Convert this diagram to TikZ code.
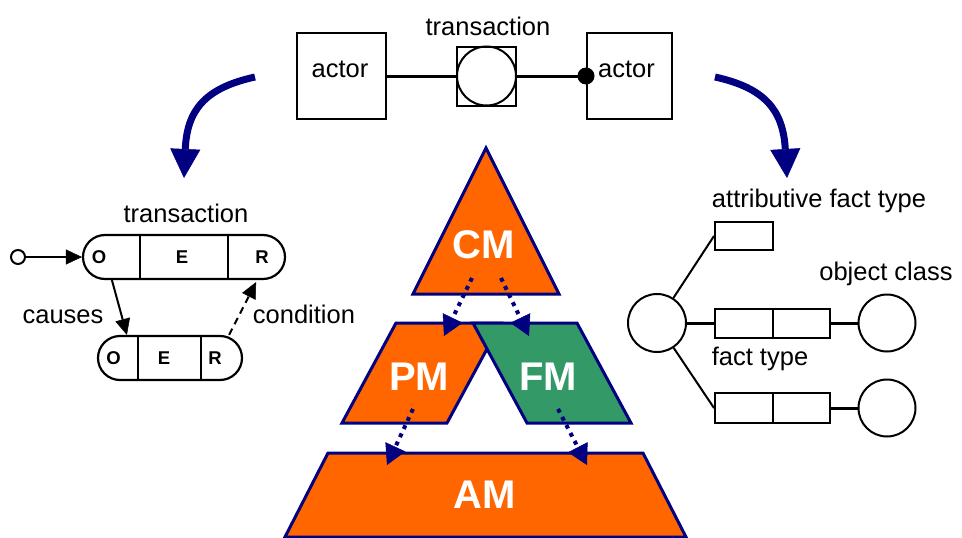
\documentclass[tikz,border=0pt]{standalone}
\usepackage{fontspec}
\setmainfont{Liberation Sans}
\usetikzlibrary{arrows.meta,calc}
\definecolor{navyblue}{HTML}{000080}
\definecolor{modelorange}{HTML}{FF6600}
\definecolor{modelgreen}{HTML}{339966}

\begin{document}
\begin{tikzpicture}[x=1pt,y=-1pt,
  lbl/.style={font=\fontsize{25.5}{30}\selectfont, inner sep=0pt, anchor=base},
  cell/.style={font=\fontsize{18.5}{22}\selectfont\bfseries, inner sep=0pt, anchor=base},
  modellbl/.style={font=\fontsize{40}{48}\selectfont\bfseries, text=white, inner sep=0pt, anchor=base},
  box/.style={draw, line width=2pt, inner sep=0pt},
  roundnode/.style={draw, circle, line width=2pt, inner sep=0pt},
  pill/.style={draw, line width=2.2pt, rounded corners=22pt, inner sep=0pt, minimum height=44pt},
  link/.style={line width=3pt},
  thinlink/.style={line width=2pt},
  conn/.style={line width=2pt, -{Triangle[length=16pt,width=15pt,line width=0.5pt]}},
  modelshape/.style={draw=navyblue, line width=3pt, line join=miter},
  dotarrow/.style={navyblue, line width=4pt, dash pattern=on 4pt off 5pt,
    -{Triangle[length=20pt,width=22pt,line width=0.5pt]}},
  bigarrow/.style={navyblue, line width=7pt,
    -{Triangle[length=29pt,width=30pt,line width=0.5pt]}}
]
\useasboundingbox (0,0) rectangle (962,538);

% ---------- actor - transaction - actor ----------
\node[box, minimum width=89pt, minimum height=86pt] (actorA) at (341.5,76) {};
\node[box, minimum width=85pt, minimum height=86pt] (actorB) at (629.5,76) {};
\node[box, minimum size=59pt] (trans) at (486.5,76) {};
\node[roundnode, minimum size=59pt] (transc) at (486.5,76) {};
\node[lbl] (actorAlbl) at (340,77) {actor};
\node[lbl] (actorBlbl) at (626.5,77) {actor};
\node[lbl] (translbl) at (488,35) {transaction};
\draw[link] (actorA.east) -- (trans.west);
\draw[link] (trans.east) -- (actorB.west);
\fill (actorB.west) circle (8.5pt);

% ---------- curved arrows ----------
\coordinate (arrLs) at (255,77);
\coordinate (arrLe) at (184,178);
\coordinate (arrRs) at (715,77);
\coordinate (arrRe) at (787,178);
\draw[bigarrow] (arrLs) .. controls (205,88) and (187,110) .. (arrLe);
\draw[bigarrow] (arrRs) .. controls (765,88) and (783,110) .. (arrRe);

% ---------- transaction pattern (O E R) ----------
\node[lbl] (tpatlbl) at (186,222) {transaction};
\node[pill, minimum width=202pt] (tA) at (184,257) {};
\draw[line width=2.2pt] (140,235) -- (140,279);
\draw[line width=2.2pt] (228,235) -- (228,279);
\node[cell] (tAo) at (99,263) {O};
\node[cell] (tAe) at (182,263) {E};
\node[cell] (tAr) at (262,263) {R};

\node[pill, minimum width=144pt] (tB) at (170,358) {};
\draw[line width=2.2pt] (138,336) -- (138,380);
\draw[line width=2.2pt] (201,336) -- (201,380);
\node[cell] (tBo) at (113.5,364) {O};
\node[cell] (tBe) at (164,364) {E};
\node[cell] (tBr) at (215,364) {R};

\node[roundnode, minimum size=14pt] (start) at (18,257) {};
\draw[conn] (start) -- (tA.west);
\draw[conn] ($(tA.south west)+(30,0)$) -- ($(tB.north west)+(30,0)$);
\draw[conn, dash pattern=on 7pt off 5pt] ($(tB.north east)+(-14,0)$) -- ($(tA.south east)+(-30,2)$);
\node[lbl] (causeslbl) at (63,323) {causes};
\node[lbl] (condlbl) at (304,323) {condition};

% ---------- fact types ----------
\node[lbl] (attrlbl) at (819,207) {attributive fact type};
\node[lbl] (oclbl) at (886,280) {object class};
\node[lbl] (ftlbl) at (760,365) {fact type};
\node[roundnode, minimum size=58pt] (ent) at (657,323) {};
\node[box, minimum width=58pt, minimum height=28pt] (attr) at (744,236) {};
\node[box, minimum width=115pt, minimum height=29pt] (ftA) at (772.5,323) {};
\node[box, minimum width=115pt, minimum height=30pt] (ftB) at (772.5,408) {};
\draw[line width=2pt] (773,308.5) -- (773,337.5);
\draw[line width=2pt] (773,393) -- (773,423);
\node[roundnode, minimum size=57pt] (ocA) at (887,323) {};
\node[roundnode, minimum size=57pt] (ocB) at (887,408) {};
\draw[thinlink] (ent) -- (attr.west);
\draw[link] (ent) -- (ftA.west);
\draw[link] (ftA.east) -- (ocA);
\draw[thinlink] (ent) -- (ftB.west);
\draw[link] (ftB.east) -- (ocB);

% ---------- model pyramid ----------
\filldraw[modelshape, fill=modelorange] (486,148) -- (559,294) -- (413,294) -- cycle;
\filldraw[modelshape, fill=modelorange] (342,423) -- (396,323) -- (501,323) -- (447,423) -- cycle;
\filldraw[modelshape, fill=modelgreen] (473,323) -- (577,323) -- (631,423) -- (527,423) -- cycle;
\filldraw[modelshape, fill=modelorange] (328,453) -- (643,453) -- (686,537) -- (285,537) -- cycle;
\node[modellbl] (cm) at (484,258) {CM};
\node[modellbl] (pm) at (419,390) {PM};
\node[modellbl] (fm) at (548,390) {FM};
\node[modellbl] (am) at (485,508) {AM};

\coordinate (cmL) at (472,278);
\coordinate (cmR) at (501,278);
\coordinate (pmIn) at (444,336);
\coordinate (fmIn) at (529,336);
\coordinate (pmOut) at (413,409);
\coordinate (fmOut) at (558,409);
\coordinate (amL) at (387,465);
\coordinate (amR) at (587,465);
\draw[dotarrow] (cmL) -- (pmIn);
\draw[dotarrow] (cmR) -- (fmIn);
\draw[dotarrow] (pmOut) -- (amL);
\draw[dotarrow] (fmOut) -- (amR);
\end{tikzpicture}
\end{document}
